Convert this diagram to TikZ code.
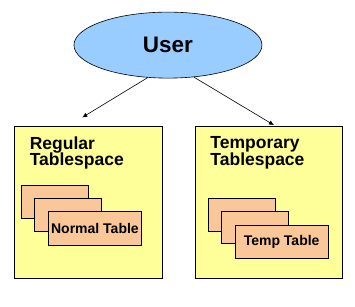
\documentclass[tikz,border=0pt]{standalone}
\usepackage{fontspec}
\setmainfont{Liberation Sans}
\usetikzlibrary{positioning, shapes, arrows.meta}

\definecolor{userblue}{HTML}{99CCFF}
\definecolor{spaceyellow}{HTML}{FFFF99}
\definecolor{tablepeach}{HTML}{FAC898}

\begin{document}
\begin{tikzpicture}[
  font=\bfseries,
  usr/.style={ellipse, draw, fill=userblue, line width=0.6pt, minimum width=6.61cm, minimum height=2.32cm, inner sep=0pt, font=\fontsize{22.5}{24}\selectfont\bfseries},
  space/.style={draw, fill=spaceyellow, line width=0.8pt, minimum width=5.2cm, minimum height=5.34cm, inner sep=0pt},
  spacetitle/.style={anchor=north west, align=left, inner sep=0pt, font=\fontsize{17.5}{16.7}\selectfont\bfseries},
  tbl/.style={draw, fill=tablepeach, line width=0.8pt, minimum width=2.345cm, minimum height=1.15cm, inner sep=0pt},
  bigtbl/.style={tbl, minimum width=3.28cm, minimum height=1.2cm, font=\fontsize{14}{15}\selectfont\bfseries},
  arrow/.style={-{Latex[length=5pt, width=4.5pt]}, line width=0.6pt, color=black}
]
\useasboundingbox (0,0) rectangle (12.48,10.76);

% --- 1. User ---
\node[usr] (user) at (5.905, 9.174) {User};

% --- 2. Tablespaces ---
\node[space] (regular) at (3.093, 3.656) {};
\node[space, minimum width=5.17cm] (temporary) at (9.438, 3.656) {};

\node[spacetitle] (regtitle) at ([xshift=0.562cm, yshift=-0.376cm]regular.north west) {Regular\\Tablespace};
\node[spacetitle] (temptitle) at ([xshift=0.552cm, yshift=-0.376cm]temporary.north west) {Temporary\\Tablespace};

% --- 3. Tables ---
\node[tbl] (n1) at (1.935, 3.654) {};
\node[tbl] (n2) at (2.378, 3.211) {};
\node[bigtbl] (normal) at (3.337, 2.729) {Normal Table};

\node[tbl] (t1) at (8.494, 3.211) {};
\node[tbl] (t2) at (8.965, 2.765) {};
\node[bigtbl, minimum height=1.17cm] (temp) at (9.900, 2.262) {Temp Table};

% --- Arrows ---
\coordinate (regin) at (2.893, 6.633);
\coordinate (tempin) at (9.631, 6.362);
\draw[arrow] (user.238.6) -- (regin);
\draw[arrow] (user.309.9) -- (tempin);

\end{tikzpicture}
\end{document}
